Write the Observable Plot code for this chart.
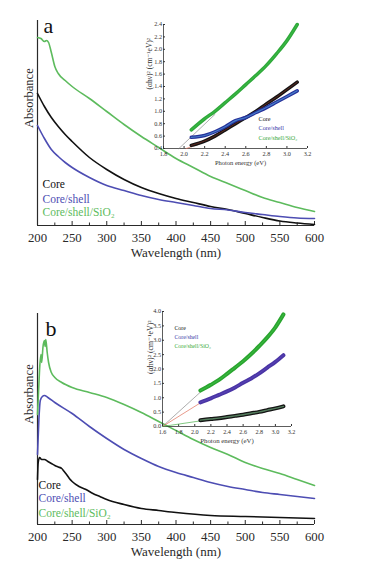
<!DOCTYPE html>
<html>
<head>
<meta charset="utf-8">
<script src="https://cdn.jsdelivr.net/npm/d3@7"></script>
<script src="https://cdn.jsdelivr.net/npm/@observablehq/plot@0.6"></script>
<style>
  html, body { margin: 0; padding: 0; background: #fff; }
  #wrap { position: relative; width: 366px; height: 561px; background: #fff; overflow: hidden; }
  .pane { position: absolute; }
  #wrap svg, #wrap svg text { font-family: "Liberation Serif", "DejaVu Serif", serif !important; }
</style>
</head>
<body>
<div id="wrap">
  <div class="pane" id="ma" style="left:0;top:0"></div>
  <div class="pane" id="ia" style="left:120px;top:10px"></div>
  <div class="pane" id="mb" style="left:0;top:280px"></div>
  <div class="pane" id="ib" style="left:120px;top:295px"></div>
</div>
<script>
// ---------- shared labels ----------
const seriesNames = ["Core", "Core/shell", "Core/shell/SiO₂"];
const mainColors = ["#111111", "#4d4db3", "#5dbb5d"];
const wavelengthTicks = [200, 250, 300, 350, 400, 450, 500, 550, 600];
const wavelengthMinorTicks = [225, 275, 325, 375, 425, 475, 525, 575];

// ---------- panel a : absorbance spectra ----------
const aCoreWl  = [200, 210, 220, 230, 240, 250, 275, 300, 325, 350, 375, 400, 425, 450, 475, 500, 525, 550, 575, 600];
const aCoreAbs = [1.32, 1.19, 1.08, 0.99, 0.91, 0.84, 0.68, 0.56, 0.46, 0.38, 0.32, 0.27, 0.23, 0.19, 0.16, 0.12, 0.08, 0.045, 0.025, 0.01];
const aShellWl  = [200, 210, 220, 230, 240, 250, 275, 300, 325, 350, 375, 400, 425, 450, 475, 500, 525, 550, 575, 600];
const aShellAbs = [1.00, 0.87, 0.76, 0.69, 0.63, 0.58, 0.48, 0.40, 0.35, 0.30, 0.26, 0.23, 0.20, 0.17, 0.155, 0.13, 0.11, 0.09, 0.075, 0.07];
const aSiWl  = [200, 205, 210, 213, 216, 220, 225, 230, 240, 250, 275, 300, 325, 350, 375, 400, 425, 450, 475, 500, 525, 550, 575, 600];
const aSiAbs = [1.88, 1.87, 1.84, 1.85, 1.83, 1.73, 1.59, 1.52, 1.45, 1.39, 1.27, 1.14, 1.01, 0.89, 0.78, 0.67, 0.58, 0.49, 0.42, 0.35, 0.28, 0.23, 0.18, 0.14];

// ---------- panel a inset : Tauc plot ----------
const iaEnergy = [2.07, 2.2, 2.3, 2.4, 2.5, 2.6, 2.7, 2.8, 2.9, 3.0, 3.1];
const iaCore   = [0.45, 0.52, 0.60, 0.70, 0.80, 0.90, 1.00, 1.12, 1.23, 1.35, 1.47];
const iaShell  = [0.58, 0.61, 0.67, 0.75, 0.85, 0.90, 0.98, 1.06, 1.15, 1.24, 1.33];
const iaSi     = [0.70, 0.88, 1.00, 1.14, 1.28, 1.43, 1.58, 1.74, 1.93, 2.14, 2.40];
const iaFitSiE = [1.95, 2.30], iaFitSiV = [0.40, 0.95];
const iaFitCoreE = [2.02, 2.15], iaFitCoreV = [0.40, 0.47];
const iaXTicks = [1.8, 2.0, 2.2, 2.4, 2.6, 2.8, 3.0, 3.2];
const iaYTicks = [0.4, 0.6, 0.8, 1.0, 1.2, 1.4, 1.6, 1.8, 2.0, 2.2, 2.4];

// ---------- panel b : absorbance spectra ----------
const bCoreWl  = [200, 201, 203, 206, 210, 215, 220, 225, 230, 235, 238, 242, 246, 250, 260, 270, 280, 290, 300, 325, 350, 375, 400, 450, 500, 550, 600];
const bCoreAbs = [0.45, 0.62, 0.67, 0.65, 0.65, 0.63, 0.61, 0.59, 0.575, 0.56, 0.535, 0.50, 0.46, 0.43, 0.38, 0.35, 0.31, 0.28, 0.25, 0.20, 0.16, 0.14, 0.12, 0.09, 0.08, 0.07, 0.06];
const bShellWl  = [200, 202, 204, 207, 210, 215, 225, 250, 275, 300, 325, 350, 375, 400, 425, 450, 475, 500, 525, 550, 575, 600];
const bShellAbs = [0.70, 1.05, 1.24, 1.28, 1.29, 1.27, 1.22, 1.11, 0.98, 0.86, 0.75, 0.66, 0.58, 0.52, 0.47, 0.42, 0.38, 0.35, 0.32, 0.30, 0.28, 0.26];
const bSiWl  = [200, 202, 203, 205, 206, 208, 210, 211, 212, 214, 216, 220, 225, 235, 250, 275, 300, 325, 350, 375, 400, 425, 450, 475, 500, 525, 550, 575, 600];
const bSiAbs = [1.10, 1.40, 1.55, 1.70, 1.62, 1.78, 1.84, 1.78, 1.85, 1.72, 1.62, 1.52, 1.47, 1.42, 1.37, 1.32, 1.27, 1.20, 1.12, 1.03, 0.94, 0.85, 0.77, 0.70, 0.62, 0.56, 0.51, 0.45, 0.39];

// ---------- panel b inset : Tauc plot ----------
const ibEnergy = [2.07, 2.2, 2.3, 2.4, 2.5, 2.6, 2.7, 2.8, 2.9, 3.0, 3.1];
const ibCore   = [0.22, 0.26, 0.29, 0.33, 0.37, 0.41, 0.46, 0.51, 0.57, 0.63, 0.70];
const ibShell  = [0.84, 0.98, 1.10, 1.22, 1.36, 1.52, 1.67, 1.85, 2.05, 2.25, 2.48];
const ibSi     = [1.25, 1.45, 1.62, 1.83, 2.05, 2.27, 2.52, 2.80, 3.10, 3.45, 3.90];
const ibFitE = [1.6, 2.08];
const ibFitSiV = [0, 1.22], ibFitShellV = [0, 0.84], ibFitCoreV = [0, 0.20];
const ibXTicks = [1.6, 1.8, 2.0, 2.2, 2.4, 2.6, 2.8, 3.0, 3.2];
const ibYTicks = [0, 0.5, 1.0, 1.5, 2.0, 2.5, 3.0, 3.5, 4.0];

const rows = (xs, ys) => xs.map((x, i) => ({x, y: ys[i]}));
const serif = "Liberation Serif";
const f1 = d3.format(".1f");

function mainPanel({series, height, marginTop, marginBottom, yMax, letter, letterDx, letterDy, legendDx, legendDys}) {
  return Plot.plot({
    width: 366, height, marginLeft: 37, marginRight: 52, marginTop, marginBottom,
    x: {domain: [200, 600]},
    y: {domain: [0, yMax], axis: null},
    style: {fontFamily: serif, background: "transparent", color: "#2a2a2a", overflow: "visible"},
    marks: [
      Plot.axisX({ticks: wavelengthTicks, tickSize: -4, tickPadding: 11, fontSize: 12.8, fontFamily: serif, label: null, tickFormat: d => d}),
      Plot.axisX({ticks: wavelengthMinorTicks, tickSize: -2.5, tickFormat: () => "", label: null}),
      Plot.ruleX([200], {stroke: "#2a2a2a", strokeWidth: 1.2}),
      Plot.ruleY([0], {stroke: "#2a2a2a", strokeWidth: 1.2}),
      ...series.map((s, i) => Plot.line(s, {x: "x", y: "y", stroke: mainColors[i], strokeWidth: 1.6, curve: "monotone-x"})),
      ...seriesNames.map((name, i) => Plot.text([name], {text: d => d, frameAnchor: "bottom-left", textAnchor: "start", lineAnchor: "middle", dx: legendDx, dy: legendDys[i], fill: mainColors[i], fontSize: 11.5, fontFamily: serif})),
      Plot.text(["Wavelength (nm)"], {text: d => d, frameAnchor: "bottom", lineAnchor: "middle", dy: 27, fontSize: 13, fontFamily: serif, fill: "#2a2a2a"}),
      Plot.text(["Absorbance"], {text: d => d, frameAnchor: "left", rotate: -90, lineAnchor: "middle", dx: -9, dy: 5, fontSize: 12.5, fontFamily: serif, fill: "#2a2a2a"}),
      Plot.text([letter], {text: d => d, frameAnchor: "top-left", textAnchor: "start", lineAnchor: "bottom", dx: letterDx, dy: letterDy, fontSize: 22, fontFamily: serif, fill: "#111"})
    ]
  });
}

function insetPanel({width, height, ml, mr, mt, mb, xDomain, yDomain, xTicks, yTicks, fits, curves, legendDx, legendDys, legendColors, legendSize, ylabDx, ylabDy, xlabDx, titleSize}) {
  return Plot.plot({
    width, height, marginLeft: ml, marginRight: mr, marginTop: mt, marginBottom: mb,
    x: {domain: xDomain},
    y: {domain: yDomain},
    style: {fontFamily: serif, background: "transparent", color: "#333", overflow: "visible"},
    marks: [
      Plot.axisX({ticks: xTicks, tickSize: -2, tickPadding: 5.5, fontSize: 6.2, fontFamily: serif, tickFormat: f1, label: null}),
      Plot.axisY({ticks: yTicks, tickSize: -2, tickPadding: 3.5, fontSize: 6.2, fontFamily: serif, tickFormat: f1, label: null}),
      Plot.ruleX([xDomain[0]], {stroke: "#333", strokeWidth: 0.8}),
      Plot.ruleY([yDomain[0]], {stroke: "#333", strokeWidth: 0.8}),
      ...fits.map(f => Plot.line(f.data, {x: "x", y: "y", stroke: f.color, strokeWidth: 0.7})),
      ...curves.flatMap(c => [
        Plot.line(c.data, {x: "x", y: "y", stroke: c.color, strokeWidth: c.width, curve: "monotone-x", strokeLinecap: "round"}),
        Plot.line(c.data, {x: "x", y: "y", stroke: c.overlay, strokeWidth: c.overlayWidth, curve: "monotone-x", strokeOpacity: 0.85})
      ]),
      ...seriesNames.map((name, i) => Plot.text([name], {text: d => d, frameAnchor: "top-left", textAnchor: "start", lineAnchor: "middle", dx: legendDx, dy: legendDys[i], fill: legendColors[i], fontSize: legendSize, fontFamily: serif})),
      Plot.text(["Photon energy (eV)"], {text: d => d, frameAnchor: "bottom", lineAnchor: "middle", dx: xlabDx, dy: 14, fontSize: titleSize, fontFamily: serif, fill: "#333"}),
      Plot.text(["(αhν)² (cm⁻¹eV)²"], {text: d => d, frameAnchor: "left", rotate: -90, lineAnchor: "middle", dx: ylabDx, dy: ylabDy, fontSize: titleSize + 1, fontFamily: serif, fill: "#333"})
    ]
  });
}

document.getElementById("ma").append(mainPanel({
  series: [rows(aCoreWl, aCoreAbs), rows(aShellWl, aShellAbs), rows(aSiWl, aSiAbs)],
  height: 280, marginTop: 20, marginBottom: 55, yMax: 2.05,
  letter: "a", letterDx: 6, letterDy: 12, legendDx: 5, legendDys: [-41, -26, -13]
}));

document.getElementById("mb").append(mainPanel({
  series: [rows(bCoreWl, bCoreAbs), rows(bShellWl, bShellAbs), rows(bSiWl, bSiAbs)],
  height: 281, marginTop: 33, marginBottom: 37, yMax: 2.11,
  letter: "b", letterDx: 8, letterDy: 22, legendDx: 1, legendDys: [-39, -26, -11]
}));

document.getElementById("ia").append(insetPanel({
  width: 200, height: 170, ml: 43, mr: 13, mt: 14, mb: 32,
  xDomain: [1.8, 3.2], yDomain: [0.4, 2.4], xTicks: iaXTicks, yTicks: iaYTicks,
  fits: [
    {data: rows(iaFitSiE, iaFitSiV), color: "#8a8a8a"},
    {data: rows(iaFitCoreE, iaFitCoreV), color: "#e0705a"}
  ],
  curves: [
    {data: rows(iaEnergy, iaSi), color: "#2fa83a", width: 3.5, overlay: "#3cc048", overlayWidth: 1},
    {data: rows(iaEnergy, iaCore), color: "#141414", width: 3.5, overlay: "#6a2a20", overlayWidth: 1},
    {data: rows(iaEnergy, iaShell), color: "#26309a", width: 3.5, overlay: "#4a8ad0", overlayWidth: 1.2}
  ],
  legendDx: 95, legendDys: [95, 104, 114], legendColors: ["#111", "#3a3aa8", "#3aaa3a"], legendSize: 6.2,
  ylabDx: -14, ylabDy: 3, xlabDx: 5, titleSize: 6.5
}));

document.getElementById("ib").append(insetPanel({
  width: 190, height: 160, ml: 42, mr: 19, mt: 16, mb: 29,
  xDomain: [1.6, 3.2], yDomain: [0, 4], xTicks: ibXTicks, yTicks: ibYTicks,
  fits: [
    {data: rows(ibFitE, ibFitSiV), color: "#8a8a8a"},
    {data: rows(ibFitE, ibFitShellV), color: "#e0705a"},
    {data: rows(ibFitE, ibFitCoreV), color: "#4cb04c"}
  ],
  curves: [
    {data: rows(ibEnergy, ibSi), color: "#2aa52f", width: 4, overlay: "#40c048", overlayWidth: 1},
    {data: rows(ibEnergy, ibShell), color: "#4a35a5", width: 4, overlay: "#5a45b8", overlayWidth: 1},
    {data: rows(ibEnergy, ibCore), color: "#141414", width: 4, overlay: "#5f8f6a", overlayWidth: 1.4}
  ],
  legendDx: 12, legendDys: [17, 26, 35], legendColors: ["#111", "#3a3aa8", "#3aaa3a"], legendSize: 5.8,
  ylabDx: -12, ylabDy: 5, xlabDx: 0, titleSize: 6.8
}));
</script>
</body>
</html>
